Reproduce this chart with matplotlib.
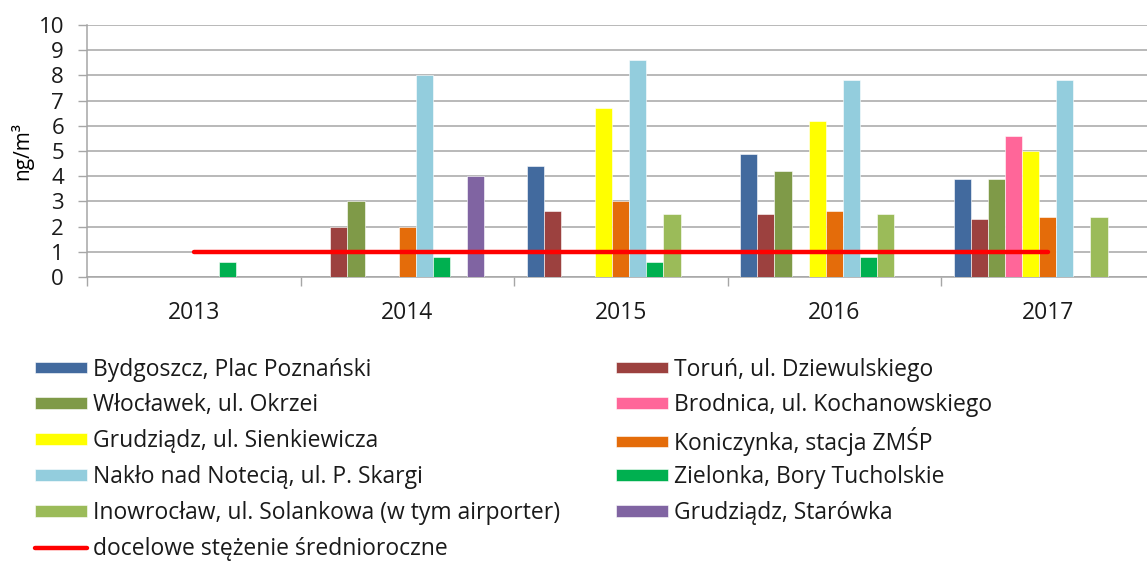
import numpy as np
import matplotlib
matplotlib.use("Agg")
import matplotlib.pyplot as plt
from matplotlib.lines import Line2D
from matplotlib.patches import Patch

plt.rcParams['font.family'] = ['Open Sans', 'DejaVu Sans']

years = ["2013", "2014", "2015", "2016", "2017"]
nan = np.nan
series_names = [
    "Bydgoszcz, Plac Poznański",
    "Toruń, ul. Dziewulskiego",
    "Włocławek, ul. Okrzei",
    "Brodnica, ul. Kochanowskiego",
    "Grudziądz, ul. Sienkiewicza",
    "Koniczynka, stacja ZMŚP",
    "Nakło nad Notecią, ul. P. Skargi",
    "Zielonka, Bory Tucholskie",
    "Inowrocław, ul. Solankowa (w tym airporter)",
    "Grudziądz, Starówka",
]
bydgoszcz  = [nan, nan, 4.4, 4.9, 3.9]
torun      = [nan, 2.0, 2.6, 2.5, 2.3]
wloclawek  = [nan, 3.0, nan, 4.2, 3.9]
brodnica   = [nan, nan, nan, nan, 5.6]
grudziadz  = [nan, nan, 6.7, 6.2, 5.0]
koniczynka = [nan, 2.0, 3.0, 2.6, 2.4]
naklo      = [nan, 8.0, 8.6, 7.8, 7.8]
zielonka   = [0.6, 0.8, 0.6, 0.8, nan]
inowroclaw = [nan, nan, 2.5, 2.5, 2.4]
starowka   = [nan, 4.0, nan, nan, nan]
target_name = "docelowe stężenie średnioroczne"
target = [1, 1, 1, 1, 1]

values = [bydgoszcz, torun, wloclawek, brodnica, grudziadz,
          koniczynka, naklo, zielonka, inowroclaw, starowka]
colors = ["#426A9E", "#9C413F", "#7F9A48", "#FF6699", "#FFFF00",
          "#E46C0A", "#93CDDD", "#00B050", "#9BBB59", "#8064A2"]

W, H = 1147, 563
fig = plt.figure(figsize=(W / 100, H / 100), dpi=100)
ax = fig.add_axes([87 / W, (H - 277) / H, 1067.5 / W, 252 / H])

nslots = 11
bw = 1.0 / (nslots + 1.5)
x = np.arange(len(years))
for i, (vals, c) in enumerate(zip(values, colors)):
    v = np.array(vals, dtype=float)
    m = ~np.isnan(v)
    ax.bar(x[m] + (i - (nslots - 1) / 2) * bw, v[m], width=bw, color=c,
           edgecolor="white", linewidth=0.4, zorder=3)

ax.plot(x, target, color="#FF0000", lw=3.2, solid_capstyle="round", zorder=4)

ax.set_xlim(-0.5, len(years) - 0.5)
ax.set_ylim(0, 10)
ax.set_yticks(range(0, 11))
ax.yaxis.grid(True, color="#A6A6A6", lw=1.1, zorder=0)
ax.set_axisbelow(True)
ax.set_xticks(np.arange(len(years) + 1) - 0.5)
ax.set_xticklabels([])
ax.set_xticks(x, minor=True)
ax.set_xticklabels(years, minor=True)
ax.tick_params(axis="x", which="major", length=6.5, width=1, color="#A6A6A6", direction="out")
ax.tick_params(axis="x", which="minor", length=0, pad=17, labelsize=16.5, labelcolor="#1a1a1a")
ax.tick_params(axis="y", length=6.5, width=1, color="#A6A6A6", pad=10, labelsize=16, labelcolor="#1a1a1a")
for s in ["top", "right"]:
    ax.spines[s].set_visible(False)
for s in ["left", "bottom"]:
    ax.spines[s].set_color("#A6A6A6")
    ax.spines[s].set_linewidth(1.1)
ax.set_ylabel("ng/m³", fontsize=15, labelpad=4, color="#000000")

handles = [Patch(facecolor=c, edgecolor="white", linewidth=0.4) for c in colors]
line_h = Line2D([], [], color="#FF0000", lw=3.2, solid_capstyle="round")
fs = 16.5
common = dict(frameon=False, fontsize=fs, borderpad=0, borderaxespad=0,
              handlelength=2.27, handleheight=0.39, handletextpad=0.26,
              loc="center left", labelcolor="#1a1a1a")
entries = list(zip(handles, series_names)) + [(line_h, target_name)]
row_y0, pitch = 369.5, 35.9
col_x = [35, 616]
for k, (h, lab) in enumerate(entries):
    row, col = k // 2, k % 2
    yc = row_y0 + row * pitch
    fig.legend([h], [lab], bbox_to_anchor=(col_x[col] / W, 1 - yc / H), **common)

fig.savefig("out.png", dpi=100)
